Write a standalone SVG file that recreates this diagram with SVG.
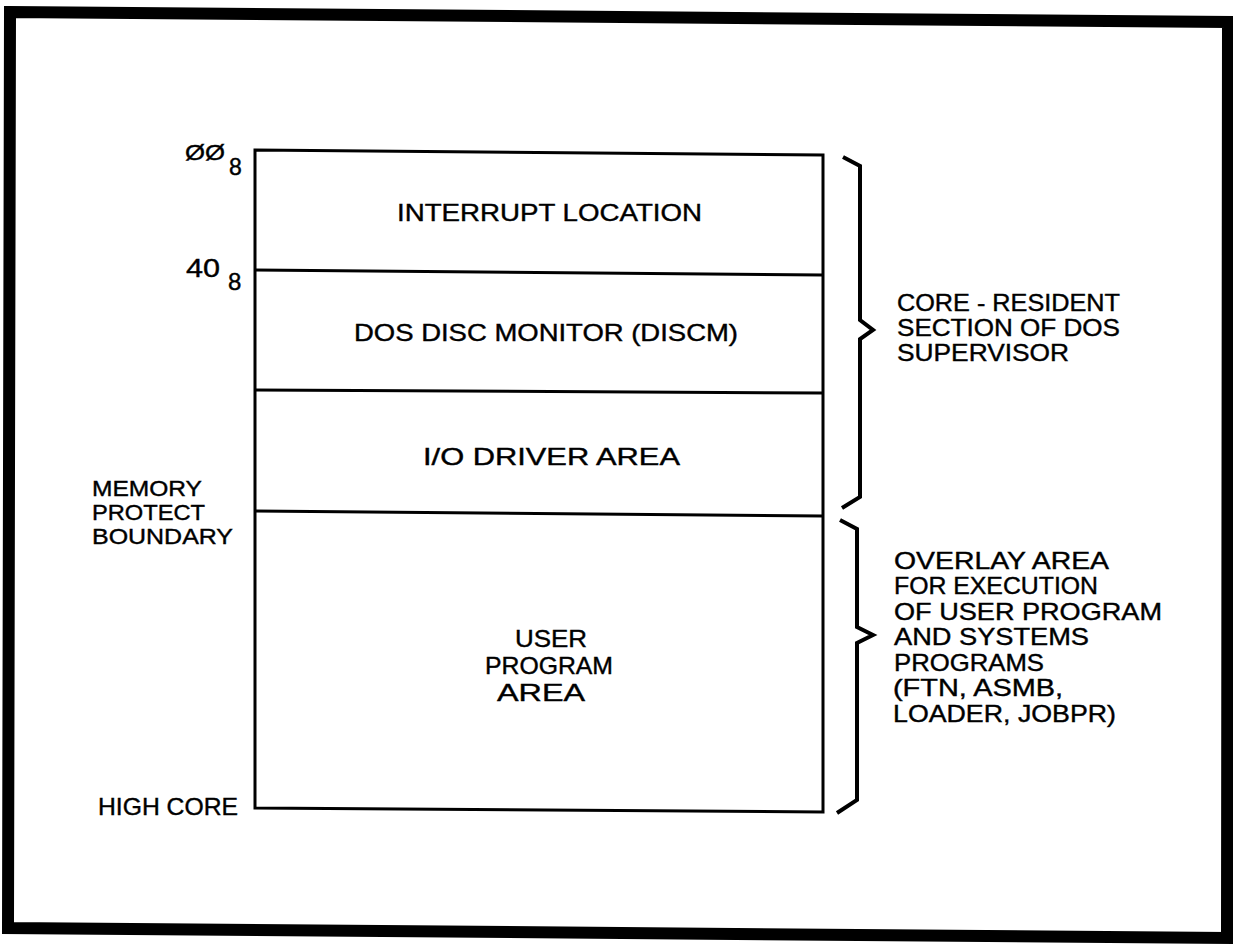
<svg xmlns="http://www.w3.org/2000/svg" width="1233" height="948" viewBox="0 0 1233 948">
<style>
  text { font-family: "Liberation Sans", Arial, sans-serif; fill: #000; stroke: #000; stroke-width: 0.4; }
  .t { font-size: 24px; }
  .s { font-size: 24px; }
  .l { font-size: 22px; }
  .ln { stroke: #000; stroke-width: 3; fill: none; }
  .br { stroke: #000; stroke-width: 4; fill: none; stroke-linejoin: miter; }
</style>
<rect width="1233" height="948" fill="#fff"/>
<g id="frame">
  <polygon points="10,12 1228,22 1227,938 8,928" fill="none" stroke="#000" stroke-width="12" stroke-linejoin="miter"/>
</g>
<g id="memory-map">
  <polygon class="ln" points="255,150 823,155 823,812 255,808"/>
</g>
<g id="connectors">
  <line class="ln" x1="255" y1="270" x2="823" y2="275"/>
  <line class="ln" x1="255" y1="390" x2="823" y2="393"/>
  <line class="ln" x1="255" y1="511" x2="823" y2="516"/>
  <path class="br" d="M843,157 L860,166 L860,320 L873,330 L860,339 L860,497 L842,508"/>
  <path class="br" d="M840,520 L857,529 L857,627 L873,635 L857,643 L857,800 L837,813"/>
</g>
<g id="interrupt-location">
  <text class="t" x="397" y="221" textLength="305" lengthAdjust="spacingAndGlyphs">INTERRUPT LOCATION</text>
</g>
<g id="dos-disc-monitor">
  <text class="t" x="354" y="341" textLength="384" lengthAdjust="spacingAndGlyphs">DOS DISC MONITOR (DISCM)</text>
</g>
<g id="io-driver-area">
  <text class="t" x="423" y="465" textLength="257" lengthAdjust="spacingAndGlyphs">I/O DRIVER AREA</text>
</g>
<g id="user-program-area">
  <text class="t" x="515" y="647" textLength="72" lengthAdjust="spacingAndGlyphs">USER</text>
  <text class="t" x="485" y="674" textLength="128" lengthAdjust="spacingAndGlyphs">PROGRAM</text>
  <text class="t" x="497" y="701" textLength="88" lengthAdjust="spacingAndGlyphs">AREA</text>
</g>
<g id="addr-00">
  <text x="185" y="160" font-size="22" textLength="40" lengthAdjust="spacingAndGlyphs">ØØ</text>
  <text x="229" y="175" font-size="23">8</text>
</g>
<g id="addr-40">
  <text x="186" y="277" font-size="26" textLength="34" lengthAdjust="spacingAndGlyphs">40</text>
  <text x="228" y="290" font-size="24">8</text>
</g>
<g id="memory-protect-boundary">
  <text class="l" x="92" y="496" textLength="110" lengthAdjust="spacingAndGlyphs">MEMORY</text>
  <text class="l" x="92" y="520" textLength="113" lengthAdjust="spacingAndGlyphs">PROTECT</text>
  <text class="l" x="92" y="544" textLength="141" lengthAdjust="spacingAndGlyphs">BOUNDARY</text>
</g>
<g id="high-core">
  <text class="s" x="98" y="815" textLength="140" lengthAdjust="spacingAndGlyphs">HIGH CORE</text>
</g>
<g id="core-resident">
  <text class="s" x="897" y="311" textLength="223" lengthAdjust="spacingAndGlyphs">CORE - RESIDENT</text>
  <text class="s" x="897" y="336" textLength="223" lengthAdjust="spacingAndGlyphs">SECTION OF DOS</text>
  <text class="s" x="897" y="361" textLength="172" lengthAdjust="spacingAndGlyphs">SUPERVISOR</text>
</g>
<g id="overlay-area">
  <text class="s" x="894" y="569" textLength="215" lengthAdjust="spacingAndGlyphs">OVERLAY AREA</text>
  <text class="s" x="894" y="594" textLength="204" lengthAdjust="spacingAndGlyphs">FOR EXECUTION</text>
  <text class="s" x="894" y="620" textLength="268" lengthAdjust="spacingAndGlyphs">OF USER PROGRAM</text>
  <text class="s" x="894" y="645" textLength="195" lengthAdjust="spacingAndGlyphs">AND SYSTEMS</text>
  <text class="s" x="894" y="671" textLength="150" lengthAdjust="spacingAndGlyphs">PROGRAMS</text>
  <text class="s" x="893" y="696" textLength="170" lengthAdjust="spacingAndGlyphs">(FTN, ASMB,</text>
  <text class="s" x="893" y="722" textLength="223" lengthAdjust="spacingAndGlyphs">LOADER, JOBPR)</text>
</g>
</svg>
